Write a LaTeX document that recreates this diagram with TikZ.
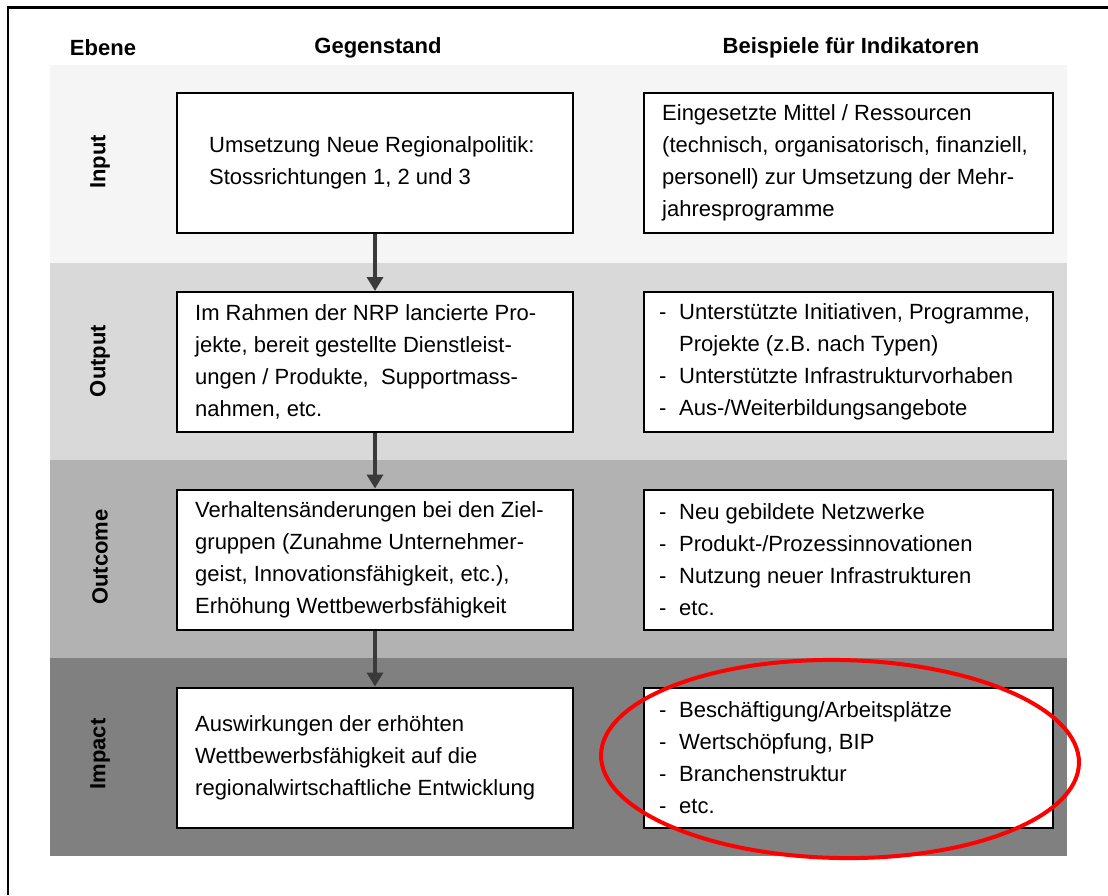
\documentclass[tikz,border=0pt]{standalone}
\usepackage{fontspec}
\setmainfont{Liberation Sans}
\usetikzlibrary{arrows.meta}
\definecolor{bandA}{HTML}{F5F5F5}
\definecolor{bandB}{HTML}{D9D9D9}
\definecolor{bandC}{HTML}{B2B2B2}
\definecolor{bandD}{HTML}{808080}
\definecolor{arrowgray}{HTML}{3A3A3A}
\newcommand\dashitem{\makebox[20pt][l]{-}}
\newcommand\contline{\hspace*{20pt}}
\tikzset{
  box/.style={draw=black, line width=2pt, fill=white, minimum width=#1, minimum height=140pt, inner sep=0pt},
  txt/.style={anchor=west, align=left, inner sep=0pt, font=\fontsize{22}{32}\selectfont},
  hdr/.style={font=\fontsize{22}{26}\selectfont\bfseries, inner sep=0pt},
  lvl/.style={font=\fontsize{22}{26}\selectfont\bfseries, inner sep=0pt, rotate=90},
  flow/.style={draw=arrowgray, line width=4pt, -{Triangle[width=16pt,length=14pt]}}
}
\begin{document}
\begin{tikzpicture}[x=1pt,y=-1pt]
\useasboundingbox (0,0) rectangle (1108,895);
\fill[white] (0,0) rectangle (1108,895);
% frame lines
\draw[line width=2.5pt] (8,895) -- (8,7.5) -- (1108,7.5);
% bands
\fill[bandA] (50,65) rectangle (1067,263);
\fill[bandB] (50,263) rectangle (1067,460);
\fill[bandC] (50,460) rectangle (1067,658);
\fill[bandD] (50,658) rectangle (1067,856);
% headers
\node[hdr] (hEbene) at (103,48) {Ebene};
\node[hdr] (hGeg) at (378,48) {Gegenstand};
\node[hdr] (hBsp) at (851,48) {Beispiele für Indikatoren};
% level labels
\node[lvl] (lInput) at (100,162) {Input};
\node[lvl] (lOutput) at (100,361) {Output};
\node[lvl] (lOutcome) at (100,557) {Outcome};
\node[lvl] (lImpact) at (100,754) {Impact};
% left boxes
\node[box=396pt] (g1) at (375,163) {};
\node[box=396pt] (g2) at (375,362) {};
\node[box=396pt] (g3) at (375,559.5) {};
\node[box=396pt] (g4) at (375,757.5) {};
% right boxes
\node[box=409pt] (b1) at (848.5,163) {};
\node[box=409pt] (b2) at (848.5,362) {};
\node[box=409pt] (b3) at (848.5,559.5) {};
\node[box=409pt] (b4) at (848.5,757.5) {};
% arrows
\draw[flow] (g1.south) -- (g2.north);
\draw[flow] (g2.south) -- (g3.north);
\draw[flow] (g3.south) -- (g4.north);
% left texts
\node[txt] (g1t) at ([xshift=33pt]g1.west) {Umsetzung Neue Regionalpolitik:\\Stossrichtungen 1, 2 und 3};
\node[txt] (g2t) at ([xshift=19pt]g2.west) {Im Rahmen der NRP lancierte Pro-\\jekte, bereit gestellte Dienstleist-\\ungen / Produkte,\ \ Supportmass-\\nahmen, etc.};
\node[txt] (g3t) at ([xshift=19pt]g3.west) {Verhaltensänderungen bei den Ziel-\\gruppen (Zunahme Unternehmer-\\geist, Innovationsfähigkeit, etc.),\\Erhöhung Wettbewerbsfähigkeit};
\node[txt] (g4t) at ([xshift=19pt]g4.west) {Auswirkungen der erhöhten\\Wettbewerbsfähigkeit auf die\\regionalwirtschaftliche Entwicklung};
% right texts
\node[txt] (b1t) at ([xshift=19pt]b1.west) {Eingesetzte Mittel / Ressourcen\\(technisch, organisatorisch, finanziell,\\personell) zur Umsetzung der Mehr-\\jahresprogramme};
\node[txt] (b2t) at ([xshift=16pt]b2.west) {\dashitem Unterstützte Initiativen, Programme,\\\contline Projekte (z.B. nach Typen)\\\dashitem Unterstützte Infrastrukturvorhaben\\\dashitem Aus-/Weiterbildungsangebote};
\node[txt] (b3t) at ([xshift=16pt]b3.west) {\dashitem Neu gebildete Netzwerke\\\dashitem Produkt-/Prozessinnovationen\\\dashitem Nutzung neuer Infrastrukturen\\\dashitem etc.};
\node[txt] (b4t) at ([xshift=16pt]b4.west) {\dashitem Beschäftigung/Arbeitsplätze\\\dashitem Wertschöpfung, BIP\\\dashitem Branchenstruktur\\\dashitem etc.};
% red ellipse
\draw[red, line width=4pt, rotate around={-1:(840,759)}] (840,759) ellipse [x radius=239pt, y radius=99pt];
\end{tikzpicture}
\end{document}
